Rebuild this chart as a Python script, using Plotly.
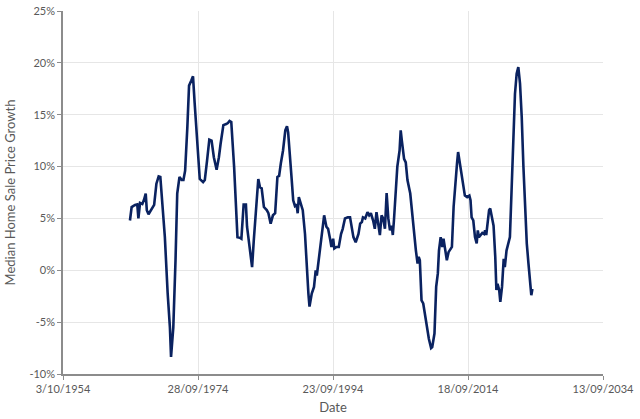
import plotly.graph_objects as go

dates = [
    "1964-09", "1964-12", "1965-06", "1965-10", "1965-12", "1966-03", "1966-07", "1966-10",
    "1967-01", "1967-03", "1967-06", "1967-11", "1968-04", "1968-08", "1968-12", "1969-03",
    "1969-06", "1969-11", "1970-04", "1970-08", "1970-10", "1971-02", "1971-06", "1971-09",
    "1972-01", "1972-05", "1972-08", "1972-11", "1973-03", "1973-06", "1973-10", "1974-01",
    "1974-04", "1974-09", "1975-01", "1975-07", "1975-10",
    "1976-02", "1976-06", "1976-10", "1977-02", "1977-07", "1977-11", "1978-02", "1978-07",
    "1978-12", "1979-03", "1979-06", "1979-09", "1980-02", "1980-05", "1980-08", "1980-12",
    "1981-03", "1981-07", "1981-11", "1982-01", "1982-06", "1982-10", "1983-01", "1983-06",
    "1983-09", "1983-12", "1984-03", "1984-07", "1984-12", "1985-03", "1985-07", "1985-11",
    "1986-03", "1986-07", "1986-10", "1987-01", "1987-05", "1987-09", "1987-12", "1988-02",
    "1988-05", "1988-08", "1988-11", "1989-02", "1989-05", "1989-07", "1989-09", "1990-01",
    "1990-04", "1990-08", "1990-11", "1991-02", "1991-04", "1991-08", "1991-12", "1992-03",
    "1992-05", "1992-09", "1993-02", "1993-06", "1993-10", "1994-01", "1994-05", "1994-07",
    "1994-10", "1994-12", "1995-04", "1995-08", "1995-12", "1996-03", "1996-07", "1996-12",
    "1997-04", "1997-07", "1997-10", "1998-02", "1998-07", "1998-10", "1999-01", "1999-03",
    "1999-07", "1999-11", "2000-02", "2000-05", "2000-08", "2000-09", "2000-12", "2001-03",
    "2001-06", "2001-09", "2001-12", "2002-03", "2002-06", "2002-09", "2002-12", "2003-03",
    "2003-06", "2003-08", "2003-10", "2004-01", "2004-04", "2004-08", "2004-10", "2004-12",
    "2005-04", "2005-07", "2005-10", "2006-03", "2006-06", "2006-10", "2007-01", "2007-04",
    "2007-06", "2007-08", "2007-11", "2008-02",
    "2008-05", "2008-08", "2008-12", "2009-04", "2009-06", "2009-10", "2010-01", "2010-04",
    "2010-06", "2010-09", "2010-12", "2011-02", "2011-05", "2011-08", "2011-11", "2012-01",
    "2012-05", "2012-08", "2012-11", "2013-02", "2013-04", "2013-07", "2013-11", "2014-01",
    "2014-04", "2014-08", "2014-12", "2015-02", "2015-04", "2015-07", "2015-10", "2016-01",
    "2016-03", "2016-05", "2016-09", "2016-11", "2017-02", "2017-04", "2017-06", "2017-09",
    "2017-11", "2018-01", "2018-04", "2018-07", "2018-10", "2018-12", "2019-02", "2019-05",
    "2019-07", "2019-10", "2020-01",
    "2020-03", "2020-06", "2020-09", "2020-12", "2021-03", "2021-06", "2021-09", "2021-12",
    "2022-03", "2022-06", "2022-09", "2022-12", "2023-03", "2023-06", "2023-09", "2023-12",
    "2024-02", "2024-04",
]

growth_pct = [
    4.8, 6.1, 6.3, 6.35, 5.0, 6.5, 6.4, 6.8,
    7.4, 5.8, 5.4, 5.9, 6.3, 8.35, 9.05, 9.0,
    7.1, 3.2, -2.2, -5.5, -8.35, -5.5, 1.0, 7.4,
    9.0, 8.7, 8.7, 9.6, 13.8, 17.8, 18.3, 18.7,
    16.1, 12.2, 8.8, 8.5, 8.7,
    10.6, 12.6, 12.5, 10.9, 9.7, 10.9, 12.2, 14.0,
    14.1, 14.2, 14.4, 14.3, 10.0, 6.4, 3.2, 3.15,
    3.05, 6.35, 6.35, 4.2, 2.25, 0.3, 2.9, 6.75,
    8.8, 8.0, 7.9, 6.1, 5.8, 5.5, 4.5, 5.3,
    5.5, 9.0, 9.1, 10.3, 11.55, 13.5, 13.9, 13.3,
    11.55, 9.0, 6.75, 6.2, 6.35, 5.5, 7.05, 6.4,
    5.8, 3.5, 0.3, -2.25, -3.5, -2.25, -1.6, 0.0,
    -0.5, 1.3, 3.5, 5.3, 4.2, 4.0, 2.9, 2.25,
    3.05, 2.1, 2.25, 2.25, 3.5, 4.0, 5.0, 5.1,
    5.1, 4.2, 3.2, 2.7, 3.5, 4.5, 4.65, 5.1,
    5.0, 5.6, 5.3, 5.5, 5.0, 4.8, 4.0, 5.6,
    4.5, 3.4, 5.3, 5.0, 4.0, 7.45, 5.0, 3.85,
    4.3, 3.4, 4.8, 7.7, 10.0, 11.55, 13.5, 12.5,
    10.75, 10.4, 8.7, 7.4, 5.5, 3.2, 1.9, 0.65,
    1.3, 0.96, -2.9, -3.2,
    -4.3, -5.5, -6.6, -7.5, -7.4, -6.1, -1.6, -0.3,
    1.9, 3.2, 2.25, 3.05, 1.9, 0.96, 1.75, 1.9,
    2.25, 6.1, 8.7, 10.3, 11.4, 10.3, 8.8, 8.35,
    7.2, 7.05, 7.2, 6.75, 5.1, 4.8, 3.2, 2.6,
    3.85, 3.2, 3.5, 3.6, 3.5, 3.85, 3.4, 5.1,
    5.8, 5.95, 5.1, 4.3, 1.3, -1.9, -1.3, -1.9,
    -3.05, -1.6, 1.1,
    0.3, 1.9, 2.6, 3.2, 7.7, 13.2, 17.0, 18.95,
    19.6, 18.0, 14.8, 10.0, 5.8, 2.6, 0.65, -0.96,
    -2.4, -1.8,
]

x_tick_dates = ["1954-10-03", "1974-09-28", "1994-09-23", "2014-09-18", "2034-09-13"]
x_tick_labels = ["3/10/1954", "28/09/1974", "23/09/1994", "18/09/2014", "13/09/2034"]
y_ticks = [-10, -5, 0, 5, 10, 15, 20, 25]
y_tick_labels = ["-10%", "-5%", "0%", "5%", "10%", "15%", "20%", "25%"]

FONT = "Lato, Liberation Sans, sans-serif"
axis_font = dict(family=FONT, size=11, color="#595959")
title_font = dict(family=FONT, size=13, color="#595959")

fig = go.Figure()
fig.add_trace(go.Scatter(
    x=dates, y=growth_pct, mode="lines",
    line=dict(color="#0a2260", width=2.6),
    hoverinfo="skip", showlegend=False,
))

fig.update_layout(
    width=640, height=419,
    margin=dict(l=63, r=37, t=11, b=45),
    paper_bgcolor="white", plot_bgcolor="white",
    font=axis_font,
    xaxis=dict(
        type="date", automargin=False,
        range=[x_tick_dates[0], x_tick_dates[-1]],
        tickmode="array", tickvals=x_tick_dates, ticktext=x_tick_labels,
        showgrid=True, gridcolor="#e6e6e6", gridwidth=1,
        showline=True, linecolor="#8c8c8c", linewidth=1.5,
        ticks="outside", ticklen=4, tickcolor="#8c8c8c",
        tickfont=axis_font, zeroline=False,
        title=dict(text="Date", font=title_font, standoff=9),
    ),
    yaxis=dict(
        range=[-10, 25], automargin=False,
        tickmode="array", tickvals=y_ticks, ticktext=y_tick_labels,
        showgrid=True, gridcolor="#e6e6e6", gridwidth=1,
        showline=True, linecolor="#8c8c8c", linewidth=1.5,
        ticks="outside", ticklen=4, tickcolor="#8c8c8c",
        tickfont=axis_font, zeroline=False,
        title=dict(text="Median Home Sale Price Growth", font=title_font, standoff=11),
    ),
)

fig.write_html("out.html")
